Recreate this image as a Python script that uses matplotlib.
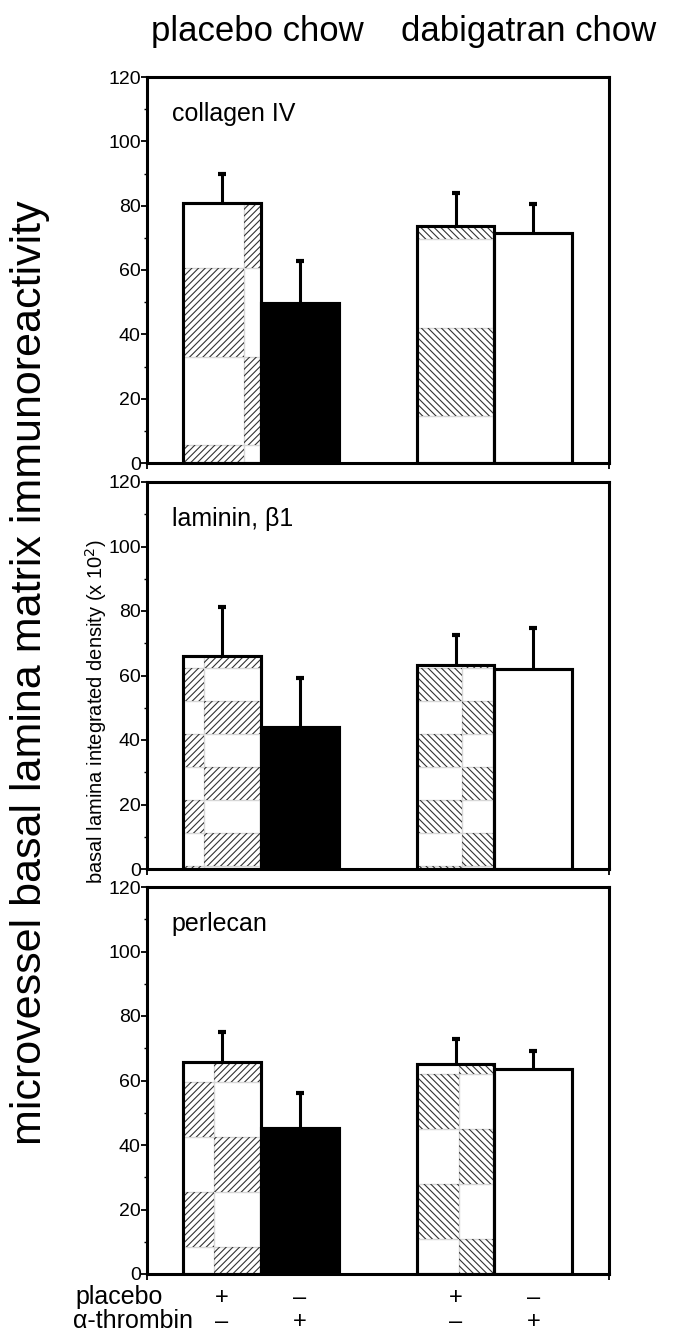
import numpy as np
import matplotlib
matplotlib.use("Agg")
import matplotlib.pyplot as plt
from matplotlib.patches import Rectangle
from matplotlib.ticker import MultipleLocator

plt.rcParams['font.family'] = ['Liberation Sans', 'DejaVu Sans']
plt.rcParams['hatch.linewidth'] = 0.8

# data
panels = ['collagen IV', 'laminin, \u03b21', 'perlecan']
collagen_mean = [80.7, 49.7, 73.7, 71.4]
collagen_err = [9.0, 13.2, 10.3, 9.1]
laminin_mean = [66.2, 44.1, 63.2, 61.9]
laminin_err = [15.1, 15.2, 9.5, 12.8]
perlecan_mean = [65.7, 45.3, 65.2, 63.6]
perlecan_err = [9.2, 10.8, 7.6, 5.6]
placebo_row = ['+', '\u2013', '+', '\u2013']
thrombin_row = ['\u2013', '+', '\u2013', '+']
groups = ['placebo chow', 'dabigatran chow']

means = [collagen_mean, laminin_mean, perlecan_mean]
errs = [collagen_err, laminin_err, perlecan_err]
xpos = np.array([1, 2, 4, 5])

# checker-style patchy hatch on bars 1 and 3: (hatch, split frac, block height, offset, parity)
patchy = [
    {0: ('/////', 0.78, 27.5, 5.5, 1), 2: ('\\\\\\\\\\', 1.0, 27.5, 14.5, 0)},
    {0: ('/////', 0.27, 10.2, 1.0, 1), 2: ('\\\\\\\\\\', 0.58, 10.2, 1.0, 1)},
    {0: ('/////', 0.40, 17.0, 8.5, 0), 2: ('\\\\\\\\\\', 0.54, 17.1, 10.8, 0)},
]
facecols = ['white', 'black', 'white', 'white']


def checker(ax, bar, hatch, split, h, offset, parity):
    x0 = bar.get_x()
    w = bar.get_width()
    top = bar.get_height()
    xs = x0 + split * w
    k = int(np.floor(-offset / h))
    while offset + k * h < top:
        y0 = offset + k * h
        if (k + parity) % 2 == 0:
            xa, wa = x0, xs - x0
        else:
            xa, wa = xs, x0 + w - xs
        if wa > 0:
            r = Rectangle((xa, y0), wa, h, facecolor='none', edgecolor='#333333',
                          lw=0, hatch=hatch, zorder=2.5)
            ax.add_patch(r)
            r.set_clip_path(bar)
            g = Rectangle((xa, y0), wa, h, facecolor='none', edgecolor='#d6d6d6',
                          lw=1.0, zorder=2.4)
            ax.add_patch(g)
            g.set_clip_path(bar)
        k += 1


fig = plt.figure(figsize=(6.8, 13.36), dpi=100)
left, width = 147 / 680, 462 / 680
bottoms = [1 - 463 / 1336, 1 - 869 / 1336, 1 - 1274 / 1336]
heights = [386 / 1336, 387 / 1336, 387 / 1336]

axes = []
for i in range(3):
    ax = fig.add_axes([left, bottoms[i], width, heights[i]])
    axes.append(ax)
    bars = ax.bar(xpos, means[i], width=1.0, color=facecols, edgecolor='black',
                  linewidth=2.2, zorder=2)
    for j, spec in patchy[i].items():
        checker(ax, bars[j], *spec)
    # outline on top of the hatch
    ax.bar(xpos, means[i], width=1.0, color='none', edgecolor='black',
           linewidth=2.2, zorder=3)
    eb = ax.errorbar(xpos, means[i], yerr=[np.zeros(4), errs[i]], fmt='none',
                     ecolor='black', elinewidth=2.2, capsize=2.6, capthick=3,
                     zorder=1.5)
    eb[1][0].set_visible(False)  # lower caps sit on the bar top
    ax.set_xlim(0.04, 5.97)
    ax.set_ylim(0, 120)
    ax.yaxis.set_major_locator(MultipleLocator(20))
    ax.yaxis.set_minor_locator(MultipleLocator(10))
    ax.set_xticks([0.04, 5.97])
    ax.set_xticklabels([])
    ax.tick_params(axis='y', which='major', direction='out', length=4, width=1.3,
                   pad=0.5, labelsize=14)
    ax.tick_params(axis='y', which='minor', direction='out', length=2.5, width=1.0)
    ax.tick_params(axis='x', direction='out', length=4, width=1.3)
    for s in ax.spines.values():
        s.set_linewidth(2.2)
    ax.text(0.054, 0.905, panels[i], transform=ax.transAxes, fontsize=18,
            ha='left', va='center')

# treatment rows under the last panel
ax = axes[2]
tr = ax.get_xaxis_transform()
for j in range(4):
    ax.text(xpos[j], -0.062, placebo_row[j], transform=tr, ha='center', va='center',
            fontsize=17)
    ax.text(xpos[j], -0.124, thrombin_row[j], transform=tr, ha='center', va='center',
            fontsize=17)
fig.text(75 / 680, 1 - 1297 / 1336, 'placebo', ha='left', va='center', fontsize=18)
fig.text(73 / 680, 1 - 1321 / 1336, '\u03b1-thrombin', ha='left', va='center', fontsize=18)

fig.text(257 / 680, 1 - 32 / 1336, groups[0], ha='center', va='center', fontsize=25)
fig.text(529 / 680, 1 - 32 / 1336, groups[1], ha='center', va='center', fontsize=25)

fig.text(30 / 680, 1 - 673 / 1336, 'microvessel basal lamina matrix immunoreactivity',
         rotation=90, ha='center', va='center', fontsize=31)
fig.text(96 / 680, 1 - 712 / 1336, 'basal lamina integrated density (x 10$^2$)',
         rotation=90, ha='center', va='center', fontsize=14.5)

fig.savefig('out.png', dpi=100)
